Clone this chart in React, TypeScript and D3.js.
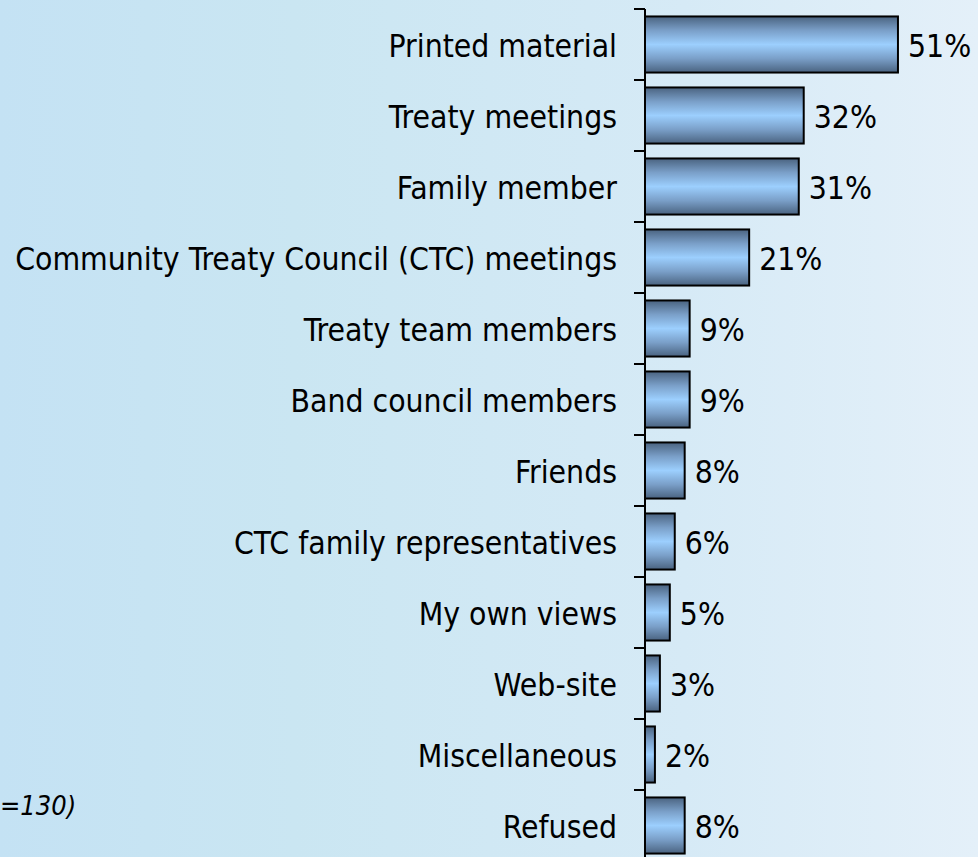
import React from "react";
import * as d3 from "d3";

const categories = [
  "Printed material",
  "Treaty meetings",
  "Family member",
  "Community Treaty Council (CTC) meetings",
  "Treaty team members",
  "Band council members",
  "Friends",
  "CTC family representatives",
  "My own views",
  "Web-site",
  "Miscellaneous",
  "Refused",
];
const values = [51, 32, 31, 21, 9, 9, 8, 6, 5, 3, 2, 8];
const baseNote = "=130)";

const W = 978;
const H = 857;
const FONT = "'DejaVu Sans Condensed', 'DejaVu Sans', sans-serif";

export default function App() {
  const axisX = 645;
  const x = d3.scaleLinear().domain([0, 100]).range([axisX, axisX + 496]);
  const y = d3
    .scaleBand<string>()
    .domain(categories)
    .range([9, 861])
    .paddingInner(0.21)
    .paddingOuter(0.105);
  const step = y.step();
  const tickYs = d3.range(categories.length + 1).map((i) => 9 + i * step);
  const fs = 31.6;

  return (
    <svg
      width={W}
      height={H}
      style={{ position: "fixed", left: 0, top: 0, display: "block" }}
      fontFamily={FONT}
    >
      <defs>
        <linearGradient id="bg" x1="0" x2="1" y1="0" y2="0">
          <stop offset="0" stopColor="#c4e2f4" />
          <stop offset="0.3" stopColor="#cae6f2" />
          <stop offset="0.7" stopColor="#d6eaf6" />
          <stop offset="1" stopColor="#e4f0f9" />
        </linearGradient>
        <linearGradient id="bar" x1="0" x2="0" y1="0" y2="1">
          <stop offset="0" stopColor="#4a6380" />
          <stop offset="0.25" stopColor="#7a9fc8" />
          <stop offset="0.5" stopColor="#9ccffe" />
          <stop offset="0.75" stopColor="#7a9fc8" />
          <stop offset="1" stopColor="#4a6380" />
        </linearGradient>
      </defs>
      <rect x={0} y={0} width={W} height={H} fill="url(#bg)" />

      {categories.map((c, i) => {
        const by = y(c)!;
        const bw = y.bandwidth();
        const cy = by + bw / 2;
        return (
          <g key={c}>
            <rect
              x={x(0)}
              y={by}
              width={x(values[i]) - x(0)}
              height={bw}
              fill="url(#bar)"
              stroke="#000"
              strokeWidth={2}
            />
            <text
              x={axisX - 28}
              y={cy + 12}
              textAnchor="end"
              fontSize={fs}
              fill="#000"
            >
              {c}
            </text>
            <text
              x={x(values[i]) + 10}
              y={cy + 12}
              textAnchor="start"
              fontSize={fs}
              fill="#000"
            >
              {values[i]}%
            </text>
          </g>
        );
      })}

      <line x1={axisX} x2={axisX} y1={9} y2={H} stroke="#000" strokeWidth={2} />
      {tickYs.map((t, i) => (
        <line key={i} x1={axisX - 11} x2={axisX} y1={t} y2={t} stroke="#000" strokeWidth={2} />
      ))}

      <text x={0} y={815} fontSize={27} fontStyle="italic" fill="#000">
        {baseNote}
      </text>
    </svg>
  );
}
